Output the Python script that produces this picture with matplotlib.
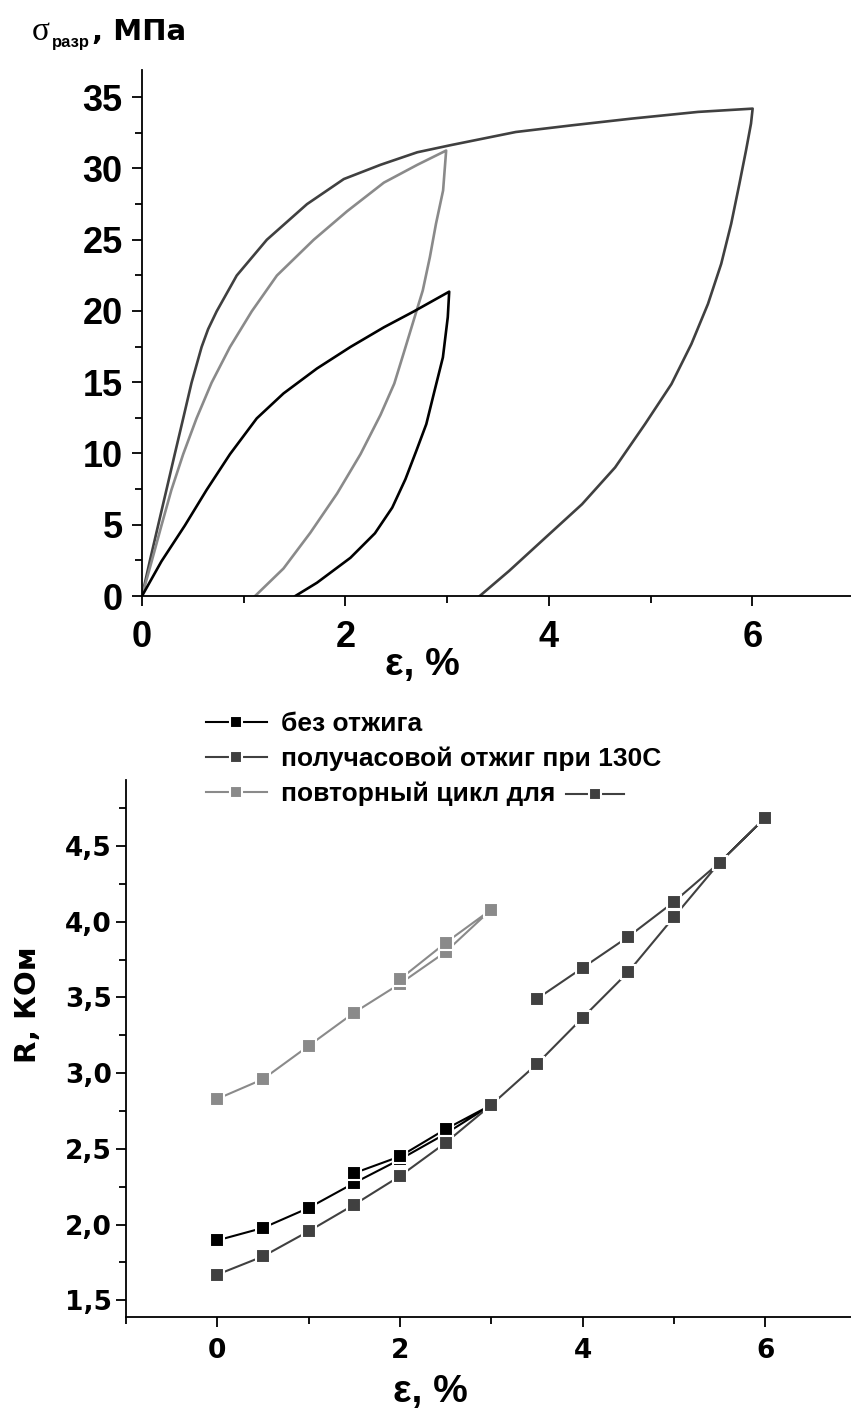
import matplotlib
matplotlib.use("Agg")
import matplotlib.pyplot as plt
from matplotlib.ticker import MultipleLocator, FuncFormatter
from matplotlib.lines import Line2D

# ---------------- data: top chart (stress-strain loops) ----------------
dark_load_x = [0, 0.076, 0.158, 0.24, 0.322, 0.405, 0.487, 0.586, 0.65, 0.734, 0.931, 1.227, 1.622,
               1.984, 2.345, 2.707, 3.036, 3.674, 4.228, 4.814, 5.466, 6.003]
dark_load_y = [0, 2.43, 4.94, 7.44, 9.95, 12.46, 14.96, 17.47, 18.72, 19.97, 22.48, 24.99, 27.49,
               29.25, 30.25, 31.13, 31.63, 32.55, 33.02, 33.49, 33.96, 34.19]
dark_unload_x = [6.003, 5.987, 5.938, 5.873, 5.792, 5.694, 5.564, 5.401, 5.205, 4.945, 4.651,
                 4.326, 3.967, 3.609, 3.32]
dark_unload_y = [34.19, 33.14, 31.26, 28.92, 26.11, 23.30, 20.49, 17.68, 14.87, 12.06, 9.02,
                 6.44, 4.10, 1.76, 0]

light_load_x = [0, 0.095, 0.191, 0.289, 0.405, 0.536, 0.684, 0.865, 1.079, 1.326, 1.688, 2.016,
                2.378, 2.707, 2.99]
light_load_y = [0, 2.43, 4.94, 7.44, 9.95, 12.46, 14.96, 17.47, 19.97, 22.48, 24.99, 26.99,
                29.0, 30.25, 31.25]
light_unload_x = [2.99, 2.96, 2.89, 2.83, 2.76, 2.66, 2.57, 2.48, 2.345, 2.148, 1.918, 1.655,
                  1.391, 1.112]
light_unload_y = [31.25, 28.45, 26.11, 23.77, 21.43, 19.09, 16.98, 14.9, 12.71, 9.95, 7.19,
                  4.44, 1.93, 0]

black_load_x = [0, 0.191, 0.421, 0.635, 0.865, 1.128, 1.391, 1.72, 2.049, 2.378, 2.674, 3.02]
black_load_y = [0, 2.43, 4.94, 7.44, 9.95, 12.46, 14.21, 15.96, 17.47, 18.85, 19.97, 21.35]
black_unload_x = [3.02, 3.006, 2.958, 2.876, 2.795, 2.697, 2.59, 2.46, 2.29, 2.049, 1.72, 1.507]
black_unload_y = [21.35, 19.56, 16.74, 14.4, 12.06, 10.19, 8.2, 6.2, 4.4, 2.68, 0.93, 0]

# ---------------- data: bottom chart (resistance vs strain) ----------------
r_black_x = [0, 0.5, 1, 1.5, 2, 2.5, 3, 2.5, 2, 1.5]
r_black_y = [1.896, 1.978, 2.11, 2.275, 2.43, 2.60, 2.79, 2.63, 2.45, 2.34]

r_dark_x = [0, 0.5, 1, 1.5, 2, 2.5, 3, 3.5, 4, 4.5, 5, 5.5, 6, 5.5, 5, 4.5, 4, 3.5]
r_dark_y = [1.67, 1.79, 1.956, 2.132, 2.32, 2.54, 2.79, 3.06, 3.365, 3.667, 4.03, 4.39, 4.686,
            4.39, 4.13, 3.90, 3.695, 3.49]

r_light_x = [0, 0.5, 1, 1.5, 2, 2.5, 3, 2.5, 2]
r_light_y = [2.83, 2.96, 3.18, 3.40, 3.59, 3.80, 4.08, 3.86, 3.62]

legend_labels = ["без отжига", "получасовой отжиг при 130С", "повторный цикл для"]

BLACK = "#000000"
DARK = "#404040"
LIGHT = "#8a8a8a"

fig = plt.figure(figsize=(8.51, 14.14), dpi=100)
W, H = 851.0, 1414.0

def fx(px):
    return px / W

def fy(py):
    return 1 - py / H

# ---------------- top axes ----------------
ax1 = fig.add_axes([fx(142), fy(596), fx(851) - fx(142), fy(70) - fy(596)])
lw_top = 1.9
ax1.plot(dark_load_x + dark_unload_x, dark_load_y + dark_unload_y, color=DARK, lw=lw_top)
ax1.plot(light_load_x + light_unload_x, light_load_y + light_unload_y, color=LIGHT, lw=lw_top)
ax1.plot(black_load_x + black_unload_x, black_load_y + black_unload_y, color=BLACK, lw=lw_top)
ax1.set_xlim(0, 6.97)
ax1.set_ylim(0, 36.9)
ax1.xaxis.set_major_locator(MultipleLocator(2))
ax1.xaxis.set_minor_locator(MultipleLocator(1))
ax1.yaxis.set_major_locator(MultipleLocator(5))
ax1.yaxis.set_minor_locator(MultipleLocator(2.5))
for s in ["top", "right"]:
    ax1.spines[s].set_visible(False)
for s in ["left", "bottom"]:
    ax1.spines[s].set_linewidth(1.3)
ax1.tick_params(which="major", direction="out", length=7, width=1.3, pad=7)
ax1.tick_params(axis="x", which="major", pad=10)
ax1.tick_params(which="minor", direction="out", length=5, width=1.3)
for lab in ax1.get_xticklabels() + ax1.get_yticklabels():
    lab.set_fontfamily("Liberation Sans")
    lab.set_fontweight("bold")
    lab.set_fontsize(26)
ax1.set_xlabel("ε, %", fontsize=28, fontweight="bold", family="Liberation Sans")
ax1.xaxis.set_label_coords((422 - 142) / (851 - 142), -0.132)
ax1.xaxis.label.set_va("center")

# y label of top chart (sigma with subscript)
fig.text(fx(41), fy(32), "σ", fontsize=24, family="Liberation Serif", ha="center", va="center")
fig.text(fx(52), fy(43), "разр", fontsize=12, family="Liberation Sans", fontweight="bold",
         ha="left", va="center")
fig.text(fx(92), fy(32), ", МПа", fontsize=21, family="DejaVu Sans", fontweight="bold",
         ha="left", va="center")

# ---------------- bottom axes ----------------
ax2 = fig.add_axes([fx(126), fy(1317), fx(851) - fx(126), fy(780) - fy(1317)])
ms = 9.6
mew = 1.5
lw_bot = 1.5
l1, = ax2.plot(r_black_x, r_black_y, color=BLACK, lw=lw_bot, marker="s", ms=ms, mec="white",
               mew=mew, mfc=BLACK)
l2, = ax2.plot(r_dark_x, r_dark_y, color=DARK, lw=lw_bot, marker="s", ms=ms, mec="white",
               mew=mew, mfc=DARK)
l3, = ax2.plot(r_light_x, r_light_y, color=LIGHT, lw=lw_bot, marker="s", ms=ms, mec="white",
               mew=mew, mfc=LIGHT)
ax2.set_xlim(-1, 6.94)
ax2.set_ylim(1.39, 4.935)
ax2.xaxis.set_major_locator(MultipleLocator(2))
ax2.xaxis.set_minor_locator(MultipleLocator(1))
ax2.yaxis.set_major_locator(MultipleLocator(0.5))
ax2.yaxis.set_minor_locator(MultipleLocator(0.25))
ax2.yaxis.set_major_formatter(FuncFormatter(lambda v, p: f"{v:.1f}".replace(".", ",")))
for s in ["top", "right"]:
    ax2.spines[s].set_visible(False)
for s in ["left", "bottom"]:
    ax2.spines[s].set_linewidth(1.3)
ax2.tick_params(which="major", direction="out", length=7, width=1.3, pad=3)
ax2.tick_params(axis="x", which="major", pad=8)
ax2.tick_params(which="minor", direction="out", length=5, width=1.3)
for lab in ax2.get_xticklabels() + ax2.get_yticklabels():
    lab.set_fontfamily("DejaVu Sans")
    lab.set_fontweight("bold")
    lab.set_fontsize(19)
ax2.set_xlabel("ε, %", fontsize=28, fontweight="bold", family="Liberation Sans")
ax2.xaxis.set_label_coords((430 - 126) / (851 - 126), -0.14)
ax2.xaxis.label.set_va("center")
ax2.set_ylabel("R, КОм", fontsize=21, fontweight="bold", family="DejaVu Sans")
ax2.yaxis.set_label_coords((28 - 126) / (851 - 126), (1317 - 1005) / (1317 - 780))
ax2.yaxis.label.set_va("center")

leg = ax2.legend([l1, l2, l3], legend_labels, loc="upper left",
                 bbox_to_anchor=(fx(206), fy(712)), bbox_transform=fig.transFigure,
                 frameon=False, borderpad=0, borderaxespad=0, handlelength=2.3,
                 handletextpad=0.55, labelspacing=0.4, numpoints=1,
                 prop={"family": "Liberation Sans", "weight": "bold", "size": 19})
for h in leg.legend_handles:
    h.set_markersize(8.5)

# trailing "—■—" sample after the third legend entry
fig.canvas.draw()
renderer = fig.canvas.get_renderer()
tb = leg.get_texts()[2].get_window_extent(renderer)
ymid = (tb.y0 + tb.y1) / 2 / fig.bbox.height
x0 = (tb.x1 + 10) / fig.bbox.width
hl = 58 / fig.bbox.width
seg = Line2D([x0, x0 + hl / 2, x0 + hl], [ymid, ymid, ymid], transform=fig.transFigure,
             color=DARK, lw=lw_bot, marker="s", ms=8.5, mec="white", mew=mew, mfc=DARK,
             markevery=[1])
fig.lines.append(seg)

fig.savefig("out.png", dpi=100)
